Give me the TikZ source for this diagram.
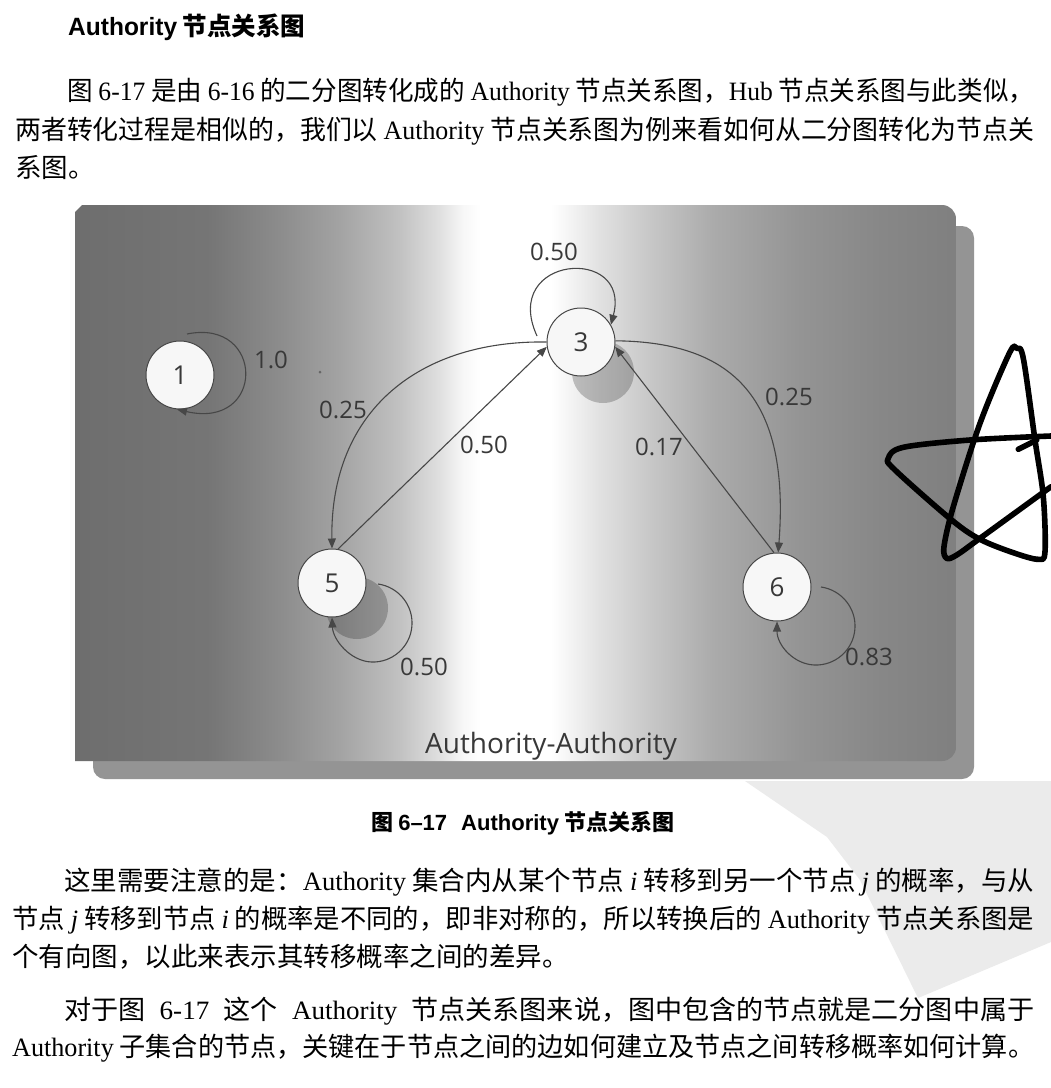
\documentclass[tikz,border=0pt]{standalone}
\usepackage{fontspec}
\usepackage{graphicx}
\setmainfont{Noto Sans CJK SC}
\newfontfamily\lat{Liberation Serif}
\newfontfamily\las{Liberation Sans}
\newfontfamily\figf{Open Sans}
\usetikzlibrary{arrows.meta}
\pgfdeclarehorizontalshading{figshade}{100bp}{color(0bp)=(black!57); color(25bp)=(black!57); color(32.56bp)=(black!54); color(36.65bp)=(black!45); color(40.06bp)=(black!36); color(43.47bp)=(black!24); color(45.74bp)=(black!12); color(47.05bp)=(black!3); color(48bp)=(white); color(52bp)=(white); color(52.78bp)=(black!3); color(54.83bp)=(black!12); color(57.67bp)=(black!22); color(61.19bp)=(black!33); color(66.19bp)=(black!42); color(70.74bp)=(black!47); color(75bp)=(black!50); color(100bp)=(black!50)}
\newsavebox\jbox
\newcommand\jline[2]{\sbox\jbox{#2}\resizebox{#1}{\height}{\usebox\jbox}}
\begin{document}
\begin{tikzpicture}[x=1pt,y=-1pt,
  body/.style={anchor=base west, inner sep=0pt, font=\fontsize{26.5pt}{30pt}\selectfont},
  gnode/.style={circle, draw=black!72, line width=1pt, fill=white!97!black, minimum size=68pt, inner sep=0pt, font=\figf\fontsize{26pt}{30pt}\selectfont, text=black!78},
  elab/.style={inner sep=0pt, font=\figf\fontsize{24pt}{28pt}\selectfont, text=black!78},
  conn/.style={draw=black!72, line width=1.1pt},
  >={Triangle[length=10pt,width=8pt]},
  nshadow/.style={fill=black, opacity=0.22},
  starline/.style={line width=5.6pt, line cap=round, line join=round, black}
]
\useasboundingbox (0,0) rectangle (1051,1088);
\fill[white] (0,0) rectangle (1051,1088);

% faint watermark
\fill[black!8] (745,781) -- (1051,781) -- (1051,942) -- (918,998) -- (888,937) -- (860,880) -- (827,837) -- cycle;

% figure panel with shadow
\fill[black!42, rounded corners=12pt] (93,226) rectangle (974,779);
\shade[shading=figshade] (75,212) -- (82,205) [rounded corners=14pt] -- (956,205) -- (956,761) [sharp corners] -- (75,761) -- cycle;
\fill[black!60] (320,372) circle (1.5);

% node shadows
\fill[nshadow] (603,372) circle (31);
\fill[nshadow] (357,608) circle (31);

% nodes
\node[gnode] (n1) at (180,375) {1};
\node[gnode] (n3) at (581,342) {3};
\node[gnode] (n5) at (332,583) {5};
\node[gnode] (n6) at (777,587) {6};

% loop starts
\coordinate (s1) at (187,334);
\coordinate (s3) at (537,336);
\coordinate (s5) at (378,584);
\coordinate (s6) at (821,587);

% self loops
\draw[conn,->] (s1) .. controls (265,318) and (266,430) .. (n1.-95);
\draw[conn,->] (s3) .. controls (500,255) and (632,245) .. (n3.30);
\draw[conn,->] (s5) .. controls (398.6,586.9) and (413.6,605.4) .. (411.9,626.2) .. controls (410.2,647) and (392.3,662.8) .. (371.4,662) .. controls (350.5,661.2) and (333,640) .. (n5.-90);
\draw[conn,->] (s6) .. controls (841.6,589.9) and (856.6,608.4) .. (854.9,629.2) .. controls (853.2,650) and (835.3,665.8) .. (814.4,665) .. controls (793.5,664.2) and (777,645) .. (n6.-90);

% edges between nodes
\draw[conn,->] (n5.80) -- (n3.188);
\draw[conn,->] (n3.180) .. controls (420,340) and (330,410) .. (n5.90);
\draw[conn,->] (n6.95) -- (n3.-8);
\draw[conn,->] (n3.2) .. controls (735,342) and (790,400) .. (n6.88);

% edge labels
\node[elab] (l10) at (271,360) {1.0};
\node[elab] (l50a) at (554,252) {0.50};
\node[elab] (l25a) at (343,410) {0.25};
\node[elab] (l50b) at (484,445) {0.50};
\node[elab] (l17) at (659,447) {0.17};
\node[elab] (l25b) at (789,397) {0.25};
\node[elab] (l50c) at (424,667) {0.50};
\node[elab] (l83) at (869,657) {0.83};
\node[elab, anchor=base, font=\figf\fontsize{28pt}{32pt}\selectfont] (ftitle) at (551,753) {Authority-Authority};

% pen star
\draw[starline] plot[smooth, tension=0.55] coordinates {(1051,436) (970,440) (903.3,447.3) (888.3,458.3) (895,470) (951.7,520) (980,539.3) (1013.3,552.7) (1038.3,559.3) (1045,551.7) (1043.3,496.7) (1035,440) (1023.3,358.3) (1016.7,348.3) (1009.3,353.3) (980,423.3) (953.3,506.7) (944,546.7) (946.7,558.3) (956.7,555) (980,538.3) (1051,486.7)};
\draw[starline] (1018.3,449.3) -- (1036.7,440);

% page text
\node[anchor=base west, inner sep=0pt, font=\fontsize{25pt}{30pt}\selectfont] (head) at (68,35) {\jline{237pt}{{\las\bfseries Authority} {\bfseries 节点关系图}}};

\node[body] (p1a) at (67,100) {\jline{967pt}{图 {\lat 6-17} 是由 {\lat 6-16} 的二分图转化成的 {\lat Authority} 节点关系图，{\lat Hub} 节点关系图与此类似，}};
\node[body] (p1b) at (15,139) {\jline{1019pt}{两者转化过程是相似的，我们以 {\lat Authority} 节点关系图为例来看如何从二分图转化为节点关}};
\node[body] (p1c) at (15,177) {系图。};

\node[anchor=base west, inner sep=0pt, font=\fontsize{22pt}{26pt}\selectfont] (cap) at (371,830) {\jline{303pt}{\bfseries 图 {\las 6–17}\hspace{14pt}{\las Authority} 节点关系图}};

\node[body] (p2a) at (64,890) {\jline{970pt}{这里需要注意的是：{\lat Authority} 集合内从某个节点 {\lat\itshape i} 转移到另一个节点 {\lat\itshape j} 的概率，与从}};
\node[body] (p2b) at (12,928) {\jline{1022pt}{节点 {\lat\itshape j} 转移到节点 {\lat\itshape i} 的概率是不同的，即非对称的，所以转换后的 {\lat Authority} 节点关系图是}};
\node[body] (p2c) at (12,966) {个有向图，以此来表示其转移概率之间的差异。};

\node[body] (p3a) at (64,1019) {\jline{970pt}{对于图\hspace{14pt}{\lat 6-17}\hspace{14pt}这个\hspace{14pt}{\lat Authority}\hspace{14pt}节点关系图来说，图中包含的节点就是二分图中属于}};
\node[body] (p3b) at (12,1056) {\jline{1022pt}{{\lat Authority} 子集合的节点，关键在于节点之间的边如何建立及节点之间转移概率如何计算。}};
\end{tikzpicture}
\end{document}
